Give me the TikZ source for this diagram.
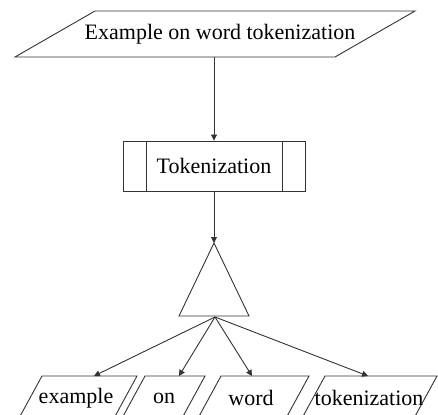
\documentclass[tikz,border=0pt]{standalone}
\usepackage{fontspec}
\setmainfont{Liberation Serif}
\usetikzlibrary{arrows.meta}
\begin{document}
\begin{tikzpicture}[x=1pt,y=-1pt,
  lc/.style={draw=black!80, line width=0.9pt},
  arr/.style={lc, -{Triangle[length=6pt,width=6pt]}},
  lbl/.style={inner sep=0pt, font=\fontsize{22}{26}\selectfont},
  procbox/.style={lc, rectangle, minimum width=182pt, minimum height=50pt, inner sep=0pt, font=\fontsize{22}{26}\selectfont}]
\useasboundingbox (0,0) rectangle (438,414);
\clip (0,0) rectangle (438,414);
% title parallelogram
\draw[lc, fill=white] (95,11) -- (415,11) -- (335,57) -- (15,57) -- cycle;
\node[lbl] (title) at (220,34) {Example on word tokenization};
\coordinate (titleb) at (214,57);
% process box
\node[procbox] (tok) at (214,166) {Tokenization};
\draw[lc] ([xshift=24pt]tok.north west) -- ([xshift=24pt]tok.south west);
\draw[lc] ([xshift=-23pt]tok.north east) -- ([xshift=-23pt]tok.south east);
\draw[arr] (titleb) -- (tok.north);
% triangle
\coordinate (apex) at (214,243);
\coordinate (tribase) at (214,316);
\draw[lc] (apex) -- (249,316) -- (179,316) -- cycle;
\draw[arr] (tok.south) -- (apex);
% outputs
\draw[lc] (42,376) -- (137,376) -- (113,420) -- (18,420) -- cycle;
\node[lbl] (w1) at (76,398) {example};
\draw[lc] (145,376) -- (205,376) -- (181,420) -- (121,420) -- cycle;
\node[lbl] (w2) at (164,398) {on};
\draw[lc] (221,376) -- (309,376) -- (285,420) -- (197,420) -- cycle;
\node[lbl] (w3) at (251,398) {word};
\draw[lc] (325,376) -- (437,376) -- (413,420) -- (301,420) -- cycle;
\node[lbl] (w4) at (369,398) {tokenization};
\coordinate (e1) at (94,376);
\coordinate (e2) at (179,376);
\coordinate (e3) at (252,376);
\coordinate (e4) at (368,376);
\coordinate (src) at (215,317);
\foreach \e in {e1,e2,e3,e4} \draw[arr] (src) -- (\e);
\end{tikzpicture}
\end{document}
